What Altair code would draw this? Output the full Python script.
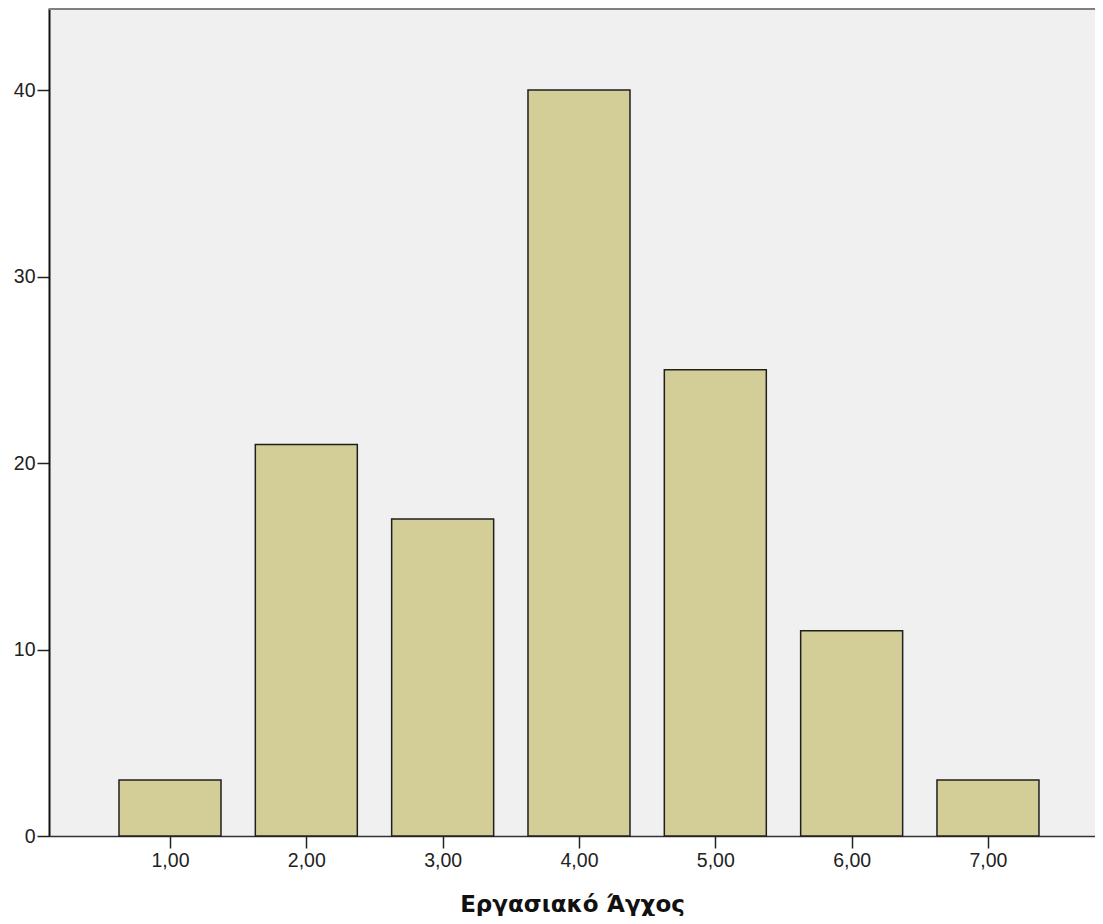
import altair as alt
import pandas as pd

categories = [1, 2, 3, 4, 5, 6, 7]
counts = [3, 21, 17, 40, 25, 11, 3]
y_ticks = [0, 10, 20, 30, 40]
x_title = "Εργασιακό Άγχος"

df = pd.DataFrame({"cat": categories, "count": counts})

W, H = 1046, 828

x_scale = alt.Scale(domain=[0.1125, 7.785], nice=False, zero=False, padding=0)
y_scale = alt.Scale(domain=[0, 44.4], nice=False, padding=0)

bars = alt.Chart(df).mark_bar(
    size=102, fill="#d3ce98", stroke="#1f1f1f", strokeWidth=1.5
).encode(
    x=alt.X("cat:Q", scale=x_scale,
            axis=alt.Axis(values=categories, grid=False, tickSize=12, tickWidth=1.5,
                          tickColor="#222222", domainColor="#333333", domainWidth=1.5,
                          labelFontSize=19.5, labelColor="#222222", labelPadding=3,
                          labelExpr="replace(format(datum.value, '.2f'), '.', ',')",
                          title=x_title, titleFontSize=23, titleFontWeight="bold",
                          titleFont="DejaVu Sans",
                          titleColor="#111111", titleY=75, titleBaseline="alphabetic")),
    y=alt.Y("count:Q", scale=y_scale,
            axis=alt.Axis(values=y_ticks, grid=False, tickSize=12, tickWidth=1.5,
                          tickColor="#222222", domainColor="#111111", domainWidth=2,
                          labelFontSize=19.5, labelColor="#222222", labelPadding=2,
                          title=None)),
)

top_border = alt.Chart(df).mark_rule(color="#808080", strokeWidth=3).encode(
    x=alt.value(0), x2=alt.value(W), y=alt.value(0)
)

chart = alt.layer(bars, top_border).properties(
    width=W, height=H,
    padding={"left": 41, "top": 0, "right": 0, "bottom": 80},
    autosize=alt.AutoSizeParams(type="none"),
    background="white",
).configure_view(
    fill="#f0f0f0", strokeWidth=0
).configure_axis(
    labelFont="Liberation Sans"
)

chart.save("out.html", embed_options={"renderer": "svg", "actions": False})
